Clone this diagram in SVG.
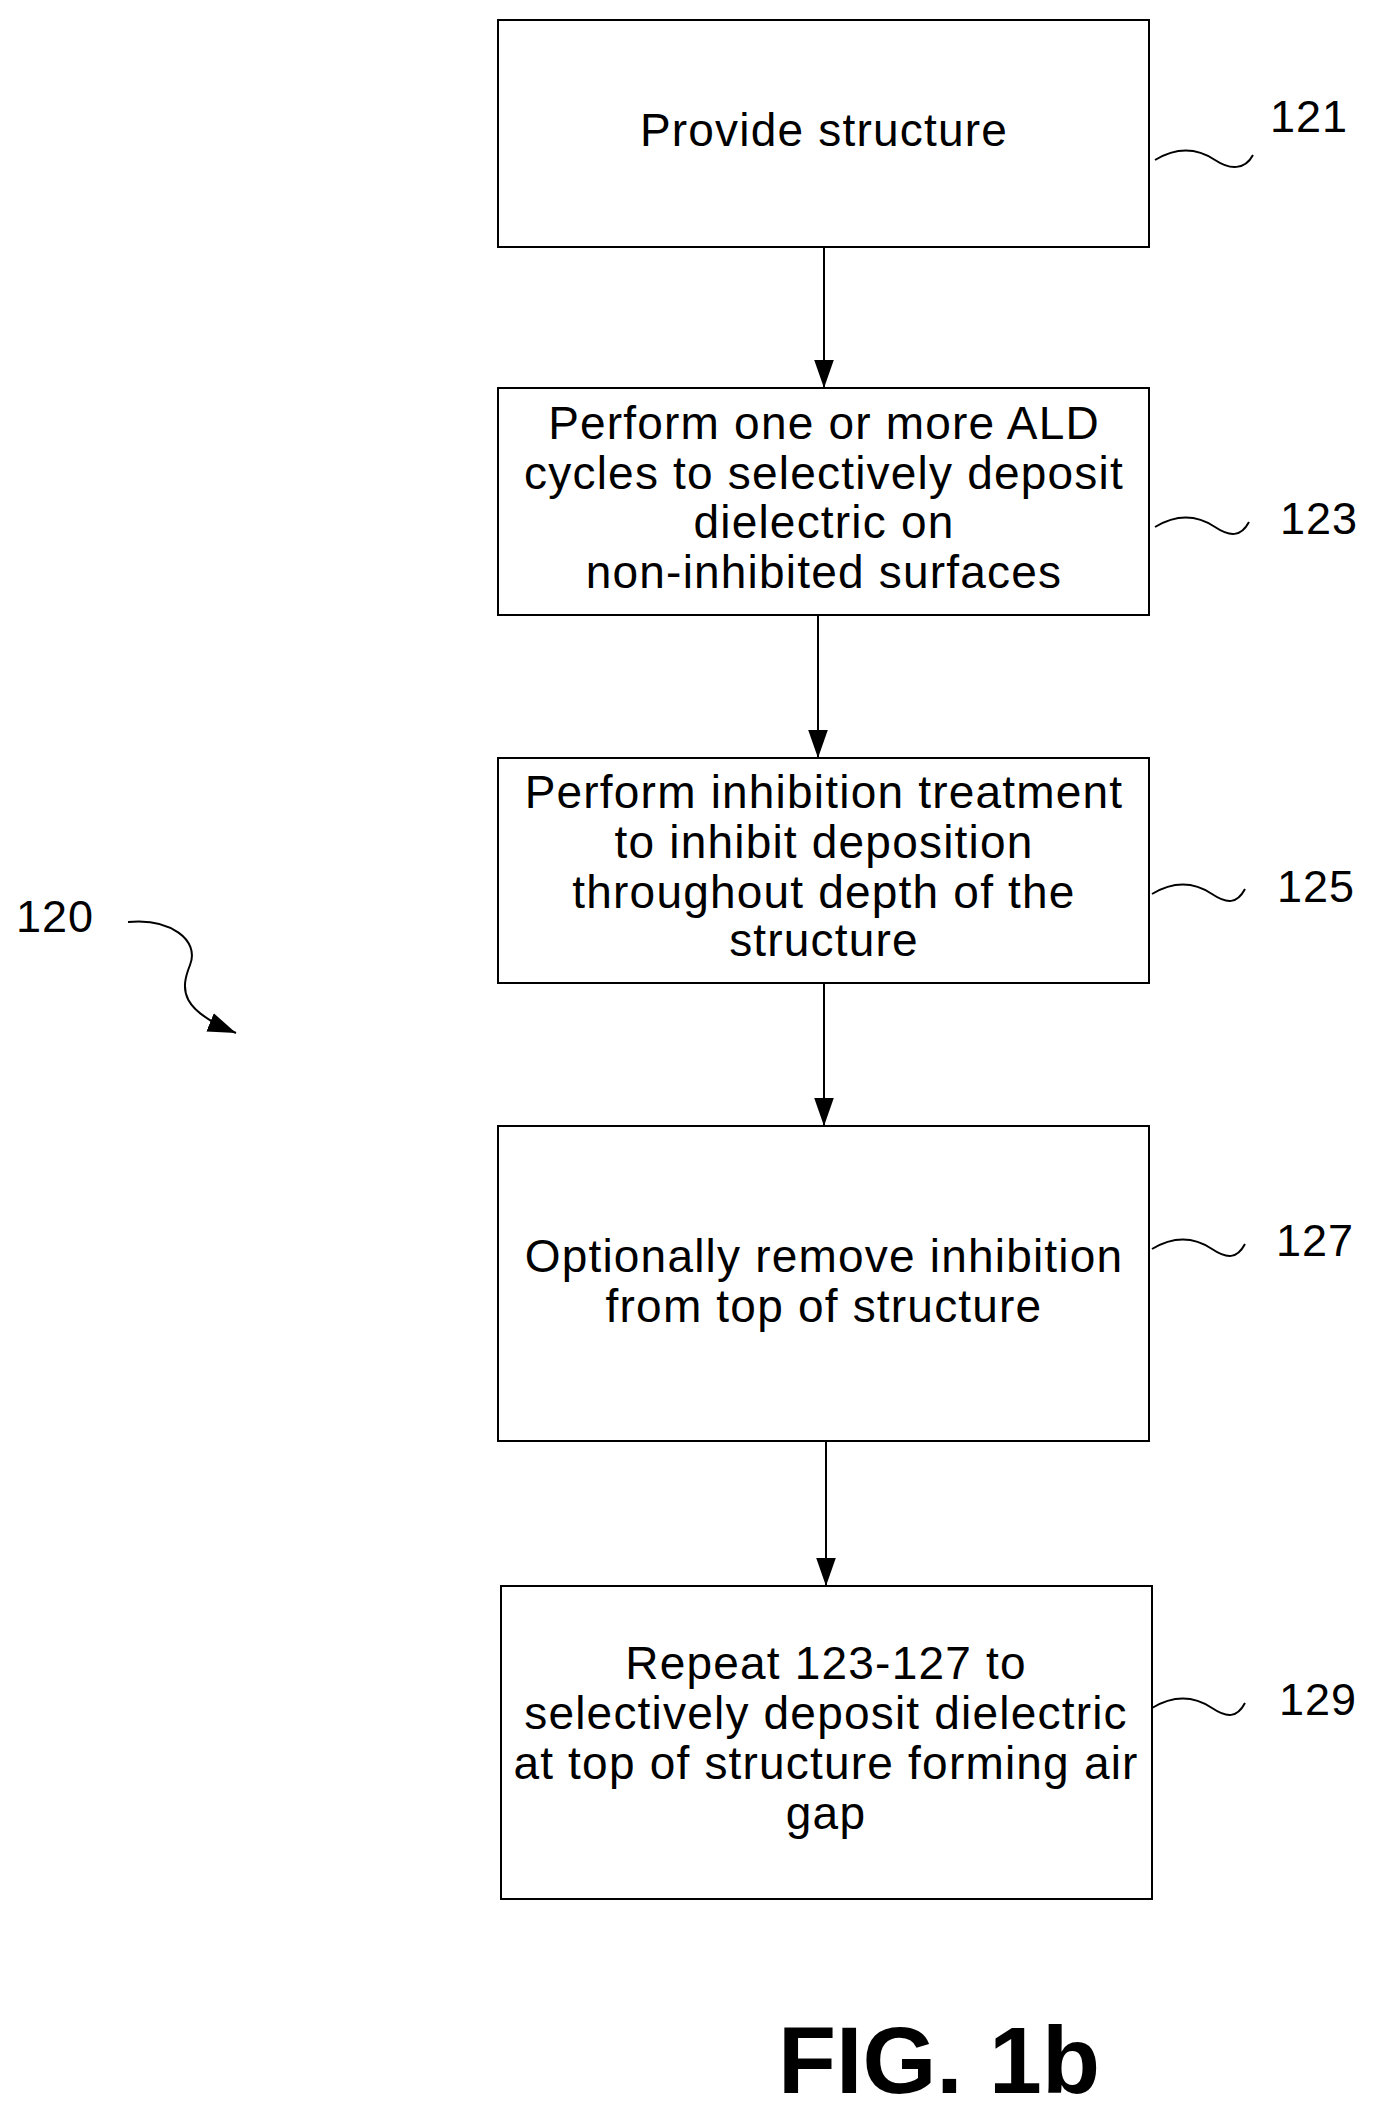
<svg xmlns="http://www.w3.org/2000/svg" width="1383" height="2121" viewBox="0 0 1383 2121">
<style>
.b{fill:#fff;stroke:#000;stroke-width:2}
.t{font-family:"Liberation Sans",Arial,sans-serif;font-size:46px;letter-spacing:1.2px;text-anchor:middle;fill:#000}
.n{font-family:"Liberation Sans",Arial,sans-serif;font-size:45px;letter-spacing:1px;fill:#000}
.s{fill:none;stroke:#000;stroke-width:2}
</style>
<defs>
<marker id="h" viewBox="0 0 20 14" refX="20" refY="7" markerWidth="28" markerHeight="20" orient="auto" markerUnits="userSpaceOnUse"><path d="M0,0 L20,7 L0,14Z"/></marker></defs>
<rect width="1383" height="2121" fill="#fff"/>
<g id="connectors">
<line class="s" x1="824" y1="247" x2="824" y2="388" marker-end="url(#h)"/>
<line class="s" x1="818" y1="615" x2="818" y2="758" marker-end="url(#h)"/>
<line class="s" x1="824" y1="983" x2="824" y2="1126" marker-end="url(#h)"/>
<line class="s" x1="826" y1="1441" x2="826" y2="1586" marker-end="url(#h)"/>
</g>
<g id="n121"><rect class="b" x="498" y="20" width="651" height="227"/><text class="t" x="824" y="146">Provide structure</text>
<path class="s" d="M1155,160 C1180,145 1200,150 1215,160 S1245,170 1253,155"/><text class="n" x="1270" y="132">121</text></g>
<g id="n123"><rect class="b" x="498" y="388" width="651" height="227"/>
<text class="t" x="824" y="439">Perform one or more ALD</text><text class="t" x="824" y="489">cycles to selectively deposit</text><text class="t" x="824" y="538">dielectric on</text><text class="t" x="824" y="588">non-inhibited surfaces</text>
<path class="s" d="M1155,527 C1180,512 1200,517 1215,527 S1241,537 1249,522"/><text class="n" x="1280" y="534">123</text></g>
<g id="n125"><rect class="b" x="498" y="758" width="651" height="225"/>
<text class="t" x="824" y="808">Perform inhibition treatment</text><text class="t" x="824" y="858">to inhibit deposition</text><text class="t" x="824" y="908">throughout depth of the</text><text class="t" x="824" y="956">structure</text>
<path class="s" d="M1152,894 C1177,879 1197,884 1212,894 S1237,904 1245,889"/><text class="n" x="1277" y="902">125</text></g>
<g id="n127"><rect class="b" x="498" y="1126" width="651" height="315"/>
<text class="t" x="824" y="1272">Optionally remove inhibition</text><text class="t" x="824" y="1322">from top of structure</text>
<path class="s" d="M1152,1249 C1177,1234 1197,1239 1212,1249 S1237,1259 1245,1244"/><text class="n" x="1276" y="1256">127</text></g>
<g id="n129"><rect class="b" x="501" y="1586" width="651" height="313"/>
<text class="t" x="826" y="1679">Repeat 123-127 to</text><text class="t" x="826" y="1729">selectively deposit dielectric</text><text class="t" x="826" y="1779">at top of structure forming air</text><text class="t" x="826" y="1829">gap</text>
<path class="s" d="M1152,1708 C1177,1693 1197,1698 1212,1708 S1237,1718 1245,1703"/><text class="n" x="1279" y="1715">129</text></g>
<g id="n120"><text class="n" x="16" y="932">120</text>
<path class="s" d="M128,922 C170,918 200,940 190,965 C180,990 180,1010 236,1033" marker-end="url(#h)"/></g>
<text x="939" y="2093" font-family="Liberation Sans,Arial,sans-serif" font-weight="bold" font-size="95" text-anchor="middle">FIG. 1b</text>
</svg>
